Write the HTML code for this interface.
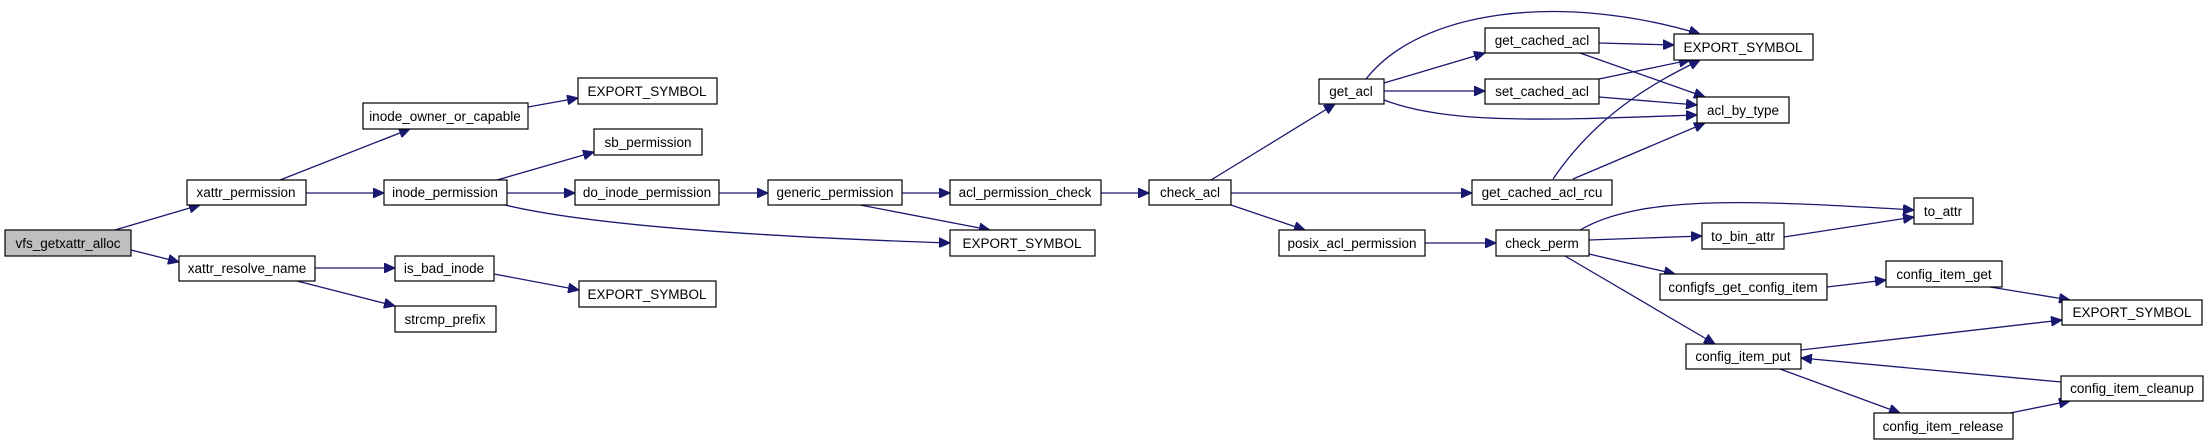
<!DOCTYPE html>
<html><head><meta charset="utf-8"><style>
html,body{margin:0;padding:0;background:#fff;}
svg{display:block;}
text{font-family:"Liberation Sans",Arial,sans-serif;font-size:13.5px;fill:#000;text-anchor:middle;}
rect{fill:#fff;stroke:#000;stroke-width:1.2;}
path{fill:none;stroke:#191970;stroke-width:1.3;}
</style></head><body>
<svg width="2208" height="445" viewBox="0 0 2208 445" xmlns="http://www.w3.org/2000/svg">
<defs><marker id="a" markerUnits="userSpaceOnUse" markerWidth="12" markerHeight="10" refX="11" refY="5" orient="auto"><path d="M0,0 L11,5 L0,10 Z" style="fill:#191970;stroke:#191970;stroke-width:1"/></marker></defs>
<g marker-end="url(#a)">
<path d="M115,230 L200,205"/>
<path d="M131,250 L179,262"/>
<path d="M315,268 L395,268"/>
<path d="M297,281 L395,306"/>
<path d="M494,274 L579,290"/>
<path d="M280,180 L410,129"/>
<path d="M306,193 L384,193"/>
<path d="M528,107 L578,98"/>
<path d="M497,180 L594,152"/>
<path d="M507,193 L575,193"/>
<path d="M505,205 C600,228 800,238 950,243"/>
<path d="M719,193 L768,193"/>
<path d="M902,193 L950,193"/>
<path d="M860,205 L990,230"/>
<path d="M1101,193 L1149,193"/>
<path d="M1211,180 L1335,104"/>
<path d="M1231,193 L1472,193"/>
<path d="M1231,205 L1305,230"/>
<path d="M1366,79 C1420,10 1560,-8 1700,34"/>
<path d="M1384,83 L1485,53"/>
<path d="M1384,91 L1485,91"/>
<path d="M1384,100 C1450,125 1550,120 1697,115"/>
<path d="M1599,43 L1674,45"/>
<path d="M1580,53 L1705,97"/>
<path d="M1599,79 L1690,60"/>
<path d="M1599,97 L1697,105"/>
<path d="M1553,179 C1600,110 1660,80 1700,60"/>
<path d="M1573,179 L1705,123"/>
<path d="M1425,243 L1496,243"/>
<path d="M1580,230 C1640,195 1750,200 1914,210"/>
<path d="M1589,240 L1702,236"/>
<path d="M1589,254 L1675,274"/>
<path d="M1565,256 L1715,344"/>
<path d="M1784,237 L1914,217"/>
<path d="M1827,287 L1886,280"/>
<path d="M1990,287 L2070,300"/>
<path d="M1801,350 L2062,320"/>
<path d="M2061,382 L1801,358"/>
<path d="M1780,369 L1900,413"/>
<path d="M2010,413 L2070,401"/>
</g>
<g>
<rect x="5" y="230" width="126" height="26" style="fill:#bfbfbf"/><text x="68" y="248">vfs_getxattr_alloc</text>
<rect x="187" y="180" width="119" height="25"/><text x="246" y="197">xattr_permission</text>
<rect x="179" y="256" width="136" height="25"/><text x="247" y="273">xattr_resolve_name</text>
<rect x="363" y="103" width="165" height="26"/><text x="445" y="121">inode_owner_or_capable</text>
<rect x="578" y="78" width="139" height="26"/><text x="647" y="96">EXPORT_SYMBOL</text>
<rect x="594" y="129" width="108" height="26"/><text x="648" y="147">sb_permission</text>
<rect x="384" y="180" width="123" height="25"/><text x="445" y="197">inode_permission</text>
<rect x="575" y="180" width="144" height="25"/><text x="647" y="197">do_inode_permission</text>
<rect x="395" y="256" width="99" height="25"/><text x="444" y="273">is_bad_inode</text>
<rect x="395" y="306" width="101" height="26"/><text x="445" y="324">strcmp_prefix</text>
<rect x="579" y="281" width="137" height="26"/><text x="647" y="299">EXPORT_SYMBOL</text>
<rect x="768" y="180" width="134" height="25"/><text x="835" y="197">generic_permission</text>
<rect x="950" y="180" width="151" height="25"/><text x="1025" y="197">acl_permission_check</text>
<rect x="950" y="230" width="145" height="26"/><text x="1022" y="248">EXPORT_SYMBOL</text>
<rect x="1149" y="180" width="82" height="25"/><text x="1190" y="197">check_acl</text>
<rect x="1319" y="79" width="65" height="25"/><text x="1351" y="96">get_acl</text>
<rect x="1485" y="28" width="114" height="25"/><text x="1542" y="45">get_cached_acl</text>
<rect x="1485" y="79" width="114" height="25"/><text x="1542" y="96">set_cached_acl</text>
<rect x="1674" y="34" width="139" height="26"/><text x="1743" y="52">EXPORT_SYMBOL</text>
<rect x="1697" y="97" width="92" height="26"/><text x="1743" y="115">acl_by_type</text>
<rect x="1472" y="180" width="140" height="25"/><text x="1542" y="197">get_cached_acl_rcu</text>
<rect x="1279" y="230" width="146" height="26"/><text x="1352" y="248">posix_acl_permission</text>
<rect x="1496" y="230" width="93" height="26"/><text x="1542" y="248">check_perm</text>
<rect x="1914" y="198" width="59" height="26"/><text x="1943" y="216">to_attr</text>
<rect x="1702" y="223" width="82" height="26"/><text x="1743" y="241">to_bin_attr</text>
<rect x="1660" y="274" width="167" height="26"/><text x="1743" y="292">configfs_get_config_item</text>
<rect x="1886" y="261" width="116" height="26"/><text x="1944" y="279">config_item_get</text>
<rect x="2062" y="300" width="140" height="25"/><text x="2132" y="317">EXPORT_SYMBOL</text>
<rect x="1686" y="344" width="115" height="25"/><text x="1743" y="361">config_item_put</text>
<rect x="2061" y="376" width="142" height="25"/><text x="2132" y="393">config_item_cleanup</text>
<rect x="1874" y="413" width="139" height="26"/><text x="1943" y="431">config_item_release</text>
</g>
</svg>
</body></html>
